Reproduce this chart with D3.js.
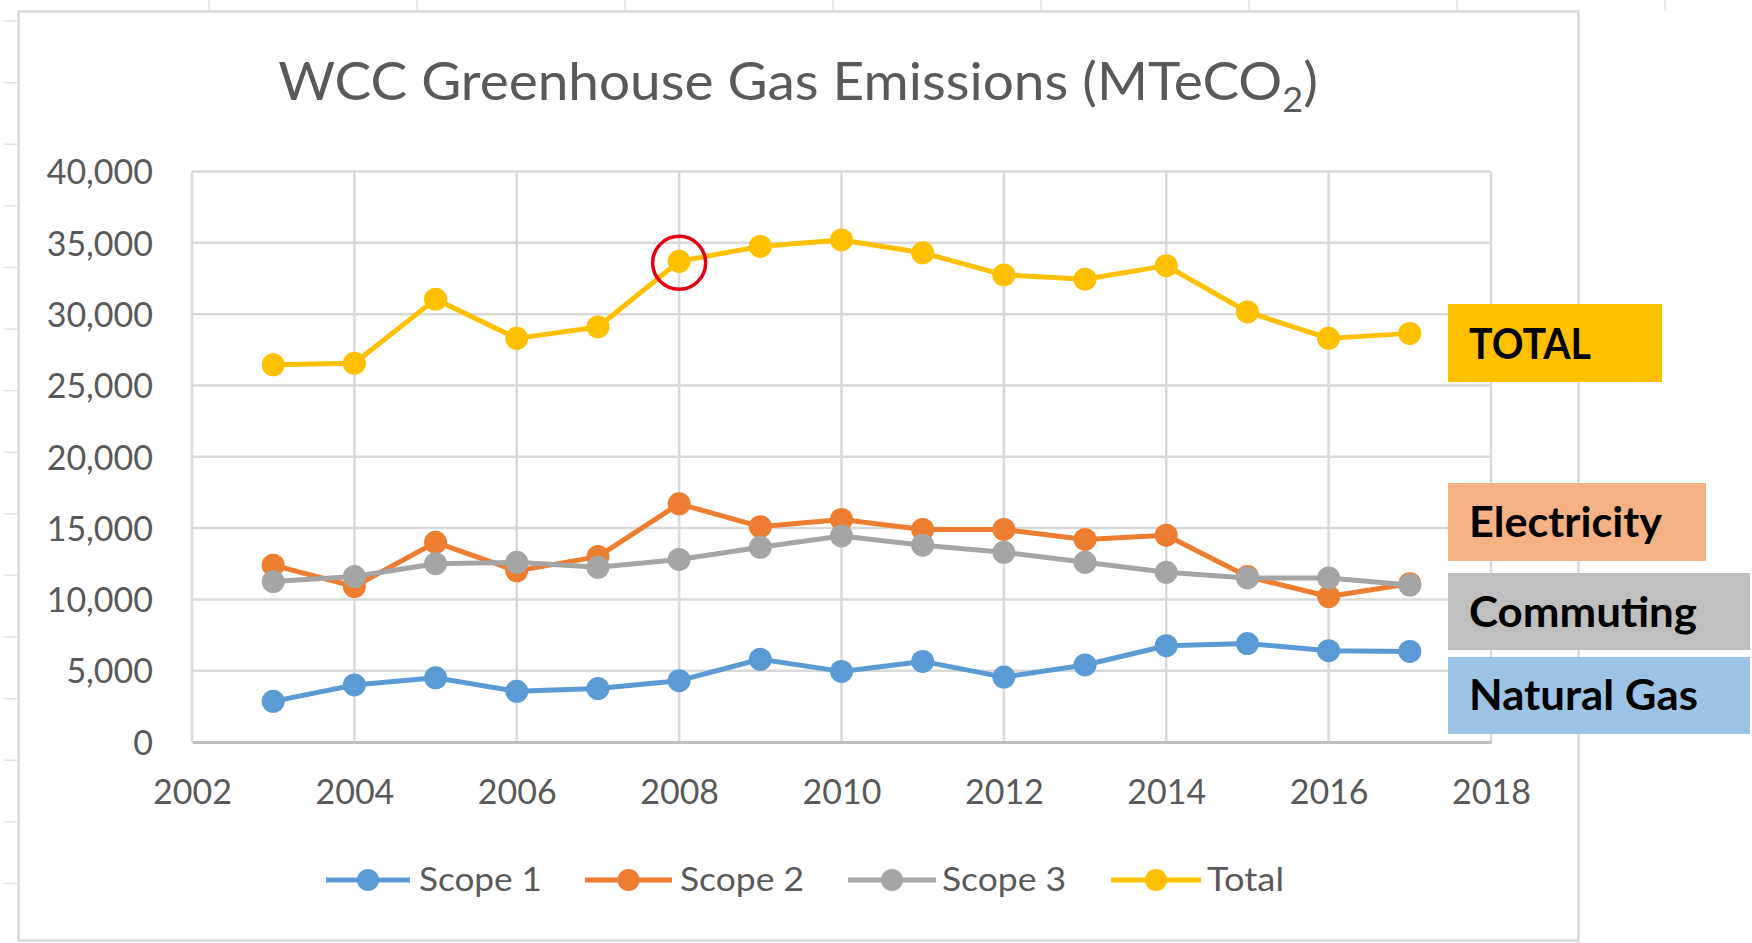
<!DOCTYPE html>
<html>
<head>
<meta charset="utf-8">
<script src="https://cdn.jsdelivr.net/npm/d3@7"></script>
<style>
  html, body { margin: 0; padding: 0; background: #ffffff; }
  svg { display: block; }
  text { font-family: Lato, "Open Sans", sans-serif; }
</style>
</head>
<body>
<svg id="chart" width="1752" height="943"></svg>
<script>
// ---- Data ----
const years  = [2003, 2004, 2005, 2006, 2007, 2008, 2009, 2010, 2011, 2012, 2013, 2014, 2015, 2016, 2017];
const scope1 = [2850, 4000, 4500, 3550, 3750, 4300, 5800, 4950, 5650, 4550, 5400, 6750, 6900, 6400, 6350];
const scope2 = [12400, 10900, 14000, 12000, 13000, 16700, 15100, 15600, 14900, 14900, 14200, 14500, 11600, 10200, 11100];
const scope3 = [11250, 11600, 12500, 12600, 12250, 12800, 13650, 14450, 13800, 13300, 12600, 11900, 11500, 11500, 11000];
const total  = [26450, 26550, 31050, 28300, 29100, 33700, 34750, 35200, 34300, 32750, 32450, 33400, 30150, 28300, 28650];

const seriesNames  = ["Scope 1", "Scope 2", "Scope 3", "Total"];
const seriesColors = ["#5B9BD5", "#ED7D31", "#A5A5A5", "#FFC000"];
const xTicks = [2002, 2004, 2006, 2008, 2010, 2012, 2014, 2016, 2018];
const yTicks = [0, 5000, 10000, 15000, 20000, 25000, 30000, 35000, 40000];

const boxLabels = ["TOTAL", "Electricity", "Commuting", "Natural Gas"];
const boxColors = ["#FFC000", "#F4B183", "#BFBFBF", "#9DC3E6"];

const highlightYear = 2008;

// ---- Layout ----
const W = 1752, H = 943;
const plot = { left: 192, right: 1491, top: 171.5, bottom: 742 };
const svg = d3.select("#chart");

// spreadsheet background marks (outside chart frame)
const sheet = svg.append("g").attr("stroke", "#E3E3E3").attr("stroke-width", 1.5);
d3.range(209, W, 208).forEach(x => sheet.append("line").attr("x1", x).attr("x2", x).attr("y1", 0).attr("y2", 11));
d3.range(21, H, 61.6).forEach(y => sheet.append("line").attr("x1", 4).attr("x2", 18).attr("y1", y).attr("y2", y));

// chart frame
svg.append("rect")
  .attr("x", 18.5).attr("y", 11.5).attr("width", 1560).attr("height", 929)
  .attr("fill", "#ffffff").attr("stroke", "#D9D9D9").attr("stroke-width", 2.5);

const x = d3.scaleLinear().domain([2002, 2018]).range([plot.left, plot.right]);
const y = d3.scaleLinear().domain([0, 40000]).range([plot.bottom, plot.top]);

// gridlines
const grid = svg.append("g");
grid.selectAll("line.h").data(yTicks.filter(v => v > 0)).join("line")
  .attr("x1", plot.left).attr("x2", plot.right)
  .attr("y1", d => y(d)).attr("y2", d => y(d))
  .attr("stroke", "#D9D9D9").attr("stroke-width", 2.5);
grid.selectAll("line.v").data(xTicks).join("line")
  .attr("x1", d => x(d)).attr("x2", d => x(d))
  .attr("y1", plot.top).attr("y2", plot.bottom)
  .attr("stroke", "#D9D9D9").attr("stroke-width", 2.5);

// axes via d3 axis generators
const fmt = d3.format(",");
const yAxis = svg.append("g").attr("transform", `translate(${plot.left},0)`)
  .call(d3.axisLeft(y).tickValues(yTicks).tickFormat(fmt).tickSize(0).tickPadding(39));
yAxis.select(".domain").remove();
yAxis.selectAll("text")
  .attr("fill", "#595959").style("font-size", "34px").attr("dy", "0.36em");

const xAxis = svg.append("g").attr("transform", `translate(0,${plot.bottom})`)
  .call(d3.axisBottom(x).tickValues(xTicks).tickFormat(d3.format("d")).tickSize(0).tickPadding(38));
xAxis.select(".domain").attr("stroke", "#BFBFBF").attr("stroke-width", 3);
xAxis.selectAll("text")
  .attr("fill", "#595959").style("font-size", "34px").attr("dy", "0.71em");

// series
const allSeries = [scope1, scope2, scope3, total];
const line = d3.line().x((d, i) => x(years[i])).y(d => y(d));
allSeries.forEach((vals, si) => {
  const g = svg.append("g");
  g.append("path").datum(vals)
    .attr("d", line).attr("fill", "none")
    .attr("stroke", seriesColors[si]).attr("stroke-width", 5)
    .attr("stroke-linejoin", "round");
  g.selectAll("circle").data(vals).join("circle")
    .attr("cx", (d, i) => x(years[i])).attr("cy", d => y(d))
    .attr("r", 11.5).attr("fill", seriesColors[si]);
});

// red highlight circle around 2008 total
const hi = years.indexOf(highlightYear);
svg.append("ellipse")
  .attr("cx", x(highlightYear)).attr("cy", y(total[hi]) + 1.5)
  .attr("rx", 26.5).attr("ry", 26.5)
  .attr("fill", "none").attr("stroke", "#E3000F").attr("stroke-width", 3.5);

// title
const title = svg.append("text")
  .attr("text-anchor", "middle")
  .attr("fill", "#595959")
  .style("font-size", "52px");
title.append("tspan").text("WCC Greenhouse Gas Emissions (MTeCO");
title.append("tspan").text("2").style("font-size", "34px").attr("dy", 12);
title.append("tspan").text(")").attr("dy", -12);
{
  const bw = title.node().getBBox().width;
  const sx = 1040 / bw;
  title.attr("transform", `translate(798,100) scale(${sx},1)`);
}

// legend
const legendItems = [
  { lx1: 326, lx2: 410, tx: 419, tw: 123 },
  { lx1: 585, lx2: 672, tx: 680, tw: 124 },
  { lx1: 848, lx2: 936, tx: 942, tw: 124 },
  { lx1: 1111, lx2: 1201, tx: 1207, tw: 77 }
];
const ly = 880;
legendItems.forEach((it, i) => {
  const g = svg.append("g");
  g.append("line").attr("x1", it.lx1).attr("x2", it.lx2).attr("y1", ly).attr("y2", ly)
    .attr("stroke", seriesColors[i]).attr("stroke-width", 5);
  g.append("circle").attr("cx", (it.lx1 + it.lx2) / 2).attr("cy", ly).attr("r", 11)
    .attr("fill", seriesColors[i]);
  g.append("text").attr("x", it.tx).attr("y", ly + 11)
    .attr("fill", "#595959").style("font-size", "33px")
    .attr("textLength", it.tw).attr("lengthAdjust", "spacingAndGlyphs")
    .text(seriesNames[i]);
});

// annotation boxes on the right
const boxes = [
  { x: 1448, y: 304, w: 214, h: 78, tw: 122, base: 359 },
  { x: 1448, y: 483, w: 258, h: 78, tw: 193, base: 537 },
  { x: 1448, y: 573, w: 302, h: 77, tw: 228, base: 627 },
  { x: 1448, y: 657, w: 302, h: 77, tw: 229, base: 710 }
];
boxes.forEach((b, i) => {
  svg.append("rect").attr("x", b.x).attr("y", b.y).attr("width", b.w).attr("height", b.h)
    .attr("fill", boxColors[i]);
  svg.append("text").attr("x", 1469).attr("y", b.base)
    .attr("fill", "#000000").style("font-size", "42px").style("font-weight", "bold")
    .attr("textLength", b.tw).attr("lengthAdjust", "spacingAndGlyphs")
    .text(boxLabels[i]);
});
</script>
</body>
</html>
